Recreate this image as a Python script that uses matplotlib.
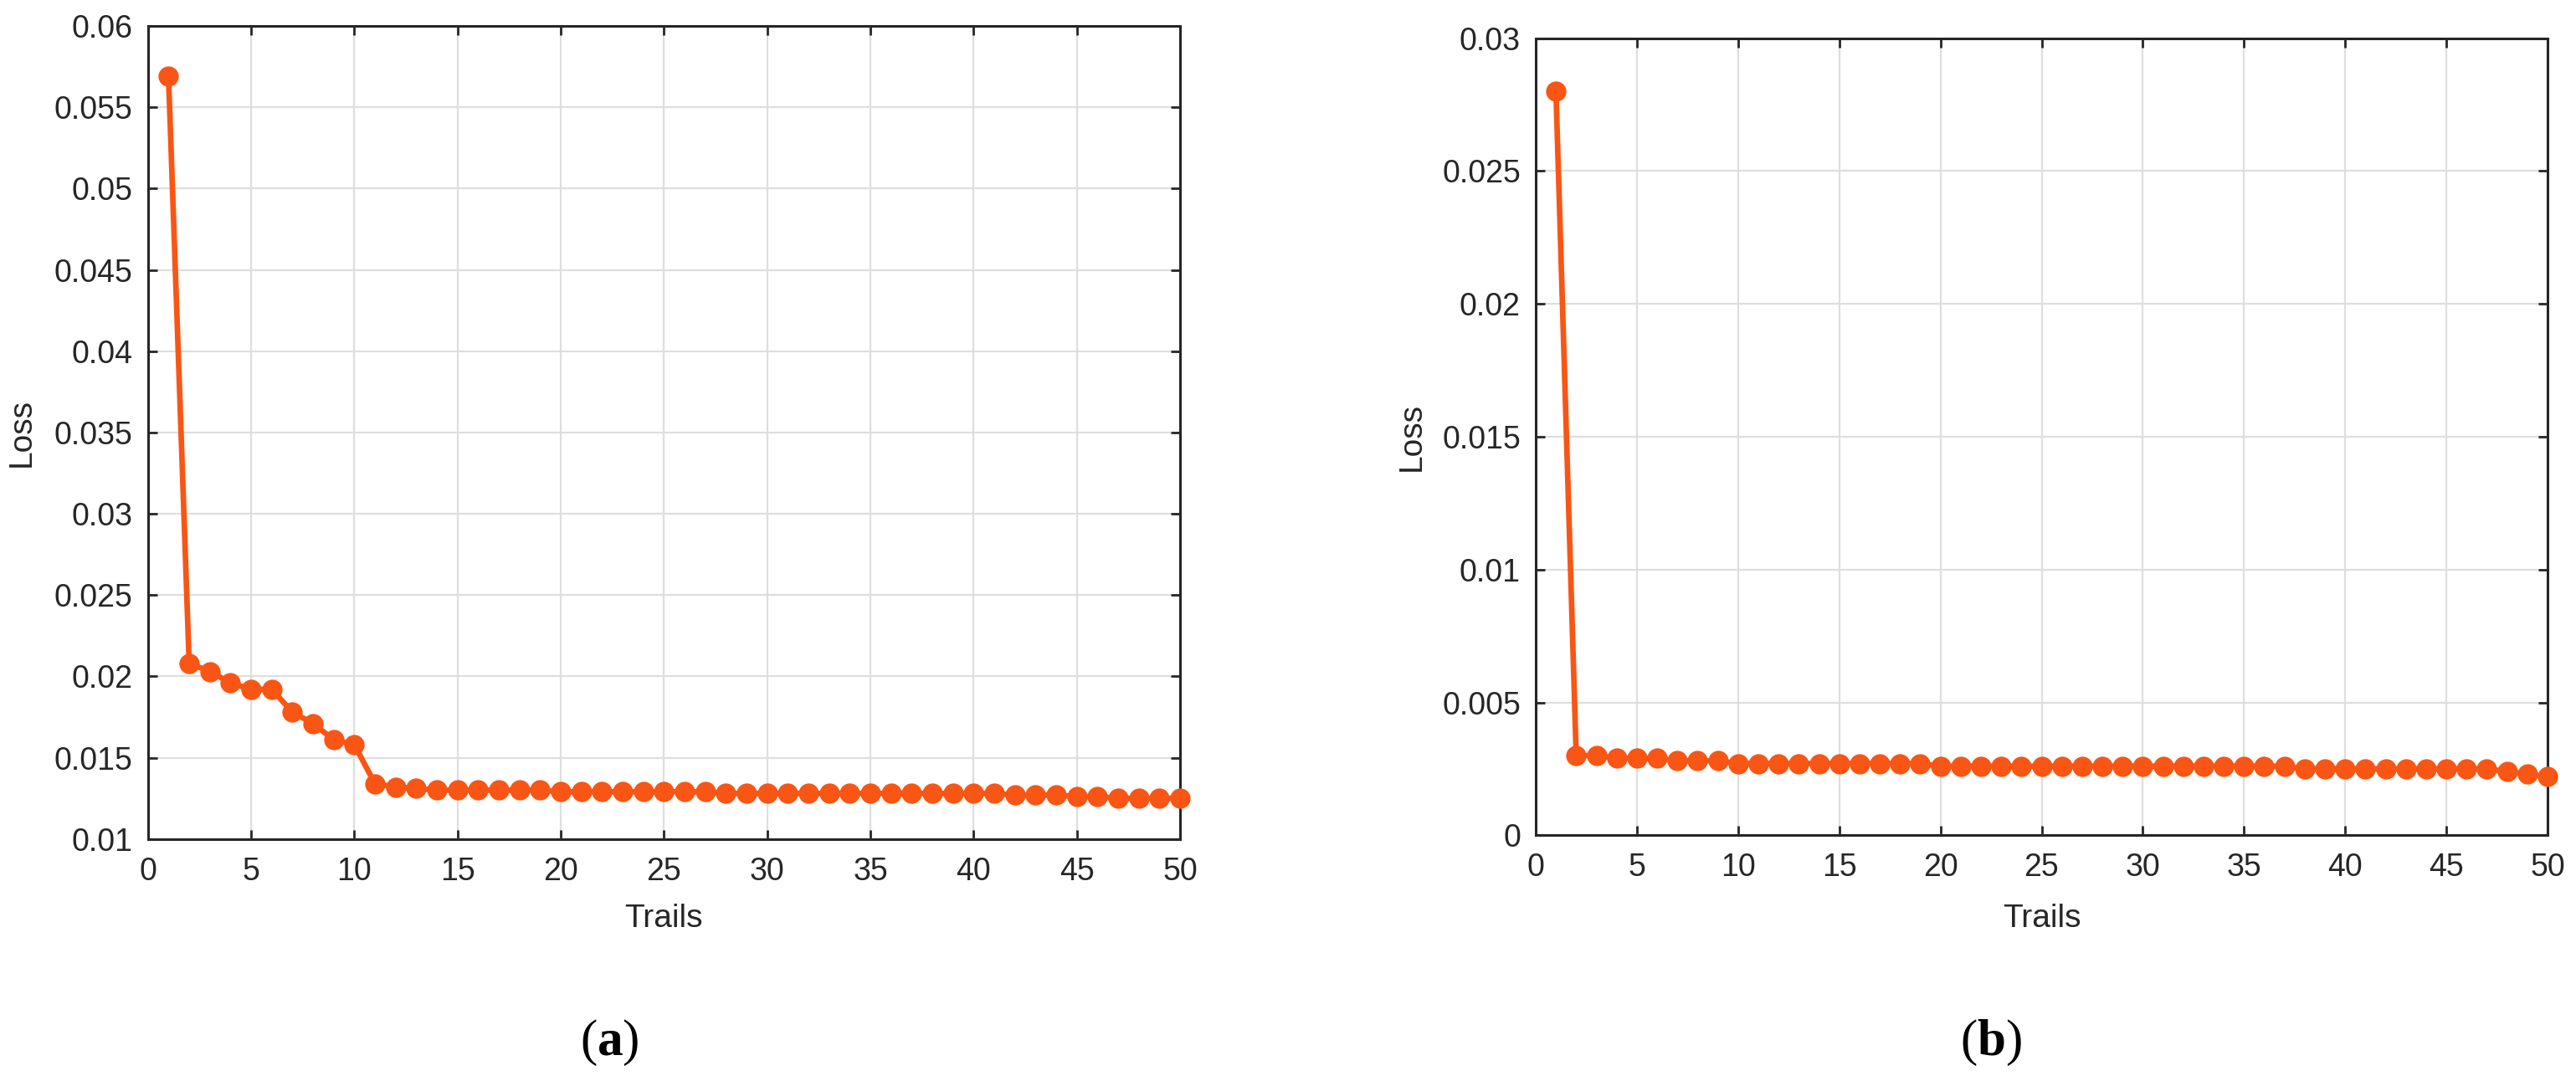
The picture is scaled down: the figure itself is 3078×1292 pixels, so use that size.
import matplotlib
matplotlib.use("Agg")
import matplotlib.pyplot as plt

# ---------------- data ----------------
trials = list(range(1, 51))

loss_a = [0.0569, 0.0208, 0.0203, 0.0196, 0.0192, 0.0192, 0.0178, 0.0171, 0.0161, 0.0158,
          0.0134, 0.0132, 0.0131, 0.0130, 0.0130, 0.0130, 0.0130, 0.0130, 0.0130, 0.0129,
          0.0129, 0.0129, 0.0129, 0.0129, 0.0129, 0.0129, 0.0129, 0.0128, 0.0128, 0.0128,
          0.0128, 0.0128, 0.0128, 0.0128, 0.0128, 0.0128, 0.0128, 0.0128, 0.0128, 0.0128,
          0.0128, 0.0127, 0.0127, 0.0127, 0.0126, 0.0126, 0.0125, 0.0125, 0.0125, 0.0125]

loss_b = [0.0280, 0.0030, 0.0030, 0.0029, 0.0029, 0.0029, 0.0028, 0.0028, 0.0028, 0.0027,
          0.0027, 0.0027, 0.0027, 0.0027, 0.0027, 0.0027, 0.0027, 0.0027, 0.0027, 0.0026,
          0.0026, 0.0026, 0.0026, 0.0026, 0.0026, 0.0026, 0.0026, 0.0026, 0.0026, 0.0026,
          0.0026, 0.0026, 0.0026, 0.0026, 0.0026, 0.0026, 0.0026, 0.0025, 0.0025, 0.0025,
          0.0025, 0.0025, 0.0025, 0.0025, 0.0025, 0.0025, 0.0025, 0.0024, 0.0023, 0.0022]

xticks = [0, 5, 10, 15, 20, 25, 30, 35, 40, 45, 50]
yticks_a = [0.01, 0.015, 0.02, 0.025, 0.03, 0.035, 0.04, 0.045, 0.05, 0.055, 0.06]
ytick_labels_a = ["0.01", "0.015", "0.02", "0.025", "0.03", "0.035", "0.04", "0.045", "0.05", "0.055", "0.06"]
yticks_b = [0, 0.005, 0.01, 0.015, 0.02, 0.025, 0.03]
ytick_labels_b = ["0", "0.005", "0.01", "0.015", "0.02", "0.025", "0.03"]

xlabel = "Trails"
ylabel = "Loss"
captions = ["a", "b"]

# ---------------- style ----------------
plt.rcParams["font.family"] = ["Liberation Sans", "DejaVu Sans"]
plt.rcParams["mathtext.fontset"] = "custom"
plt.rcParams["mathtext.rm"] = "Liberation Serif"
plt.rcParams["mathtext.bf"] = "Liberation Serif:bold"

LINE_COLOR = "#F95514"
TEXT_COLOR = "#262626"
GRID_COLOR = "#DEDEDE"

fig = plt.figure(figsize=(30.78, 12.92), dpi=100)
W, H = 3078, 1292

def make_axes(left, right, top, bottom):
    return fig.add_axes([left / W, 1 - bottom / H, (right - left) / W, (bottom - top) / H])

ax_a = make_axes(176.7, 1410, 31, 1002.7)
ax_b = make_axes(1835, 3044, 45.7, 998.3)

panels = [
    (ax_a, loss_a, (0.01, 0.06), yticks_a, ytick_labels_a, -0.08),
    (ax_b, loss_b, (0, 0.03), yticks_b, ytick_labels_b, -0.086),
]

for ax, ydata, ylim, yt, ytl, xly in panels:
    ax.plot(trials, ydata, color=LINE_COLOR, linewidth=4.8, marker="o",
            markersize=17.5, markeredgewidth=0, clip_on=False, zorder=5)
    ax.set_xlim(0, 50)
    ax.set_ylim(*ylim)
    ax.set_xticks(xticks)
    ax.set_xticklabels([str(v) for v in xticks])
    ax.set_yticks(yt)
    ax.set_yticklabels(ytl)
    ax.grid(True, color=GRID_COLOR, linewidth=1.6, zorder=0)
    ax.set_axisbelow(True)
    ax.tick_params(direction="in", length=8, width=2, top=True, right=True,
                   labelsize=27, colors=TEXT_COLOR)
    ax.tick_params(axis="x", pad=15)
    ax.tick_params(axis="y", pad=13)
    for sp in ax.spines.values():
        sp.set_linewidth(2.2)
        sp.set_color(TEXT_COLOR)
    ax.set_xlabel(xlabel, fontsize=28, color=TEXT_COLOR)
    ax.set_ylabel(ylabel, fontsize=28, color=TEXT_COLOR)
    ax.xaxis.set_label_coords(0.5, xly)
    ax.yaxis.set_label_coords(-0.108, 0.5)

fig.text(728 / W, 1 - 1246 / H, r"($\mathbf{%s}$)" % captions[0], fontsize=44,
         family="Liberation Serif", ha="center", va="center", color="black")
fig.text(2379 / W, 1 - 1246 / H, r"($\mathbf{%s}$)" % captions[1], fontsize=44,
         family="Liberation Serif", ha="center", va="center", color="black")

fig.savefig("out.png", dpi=100, facecolor="white")
